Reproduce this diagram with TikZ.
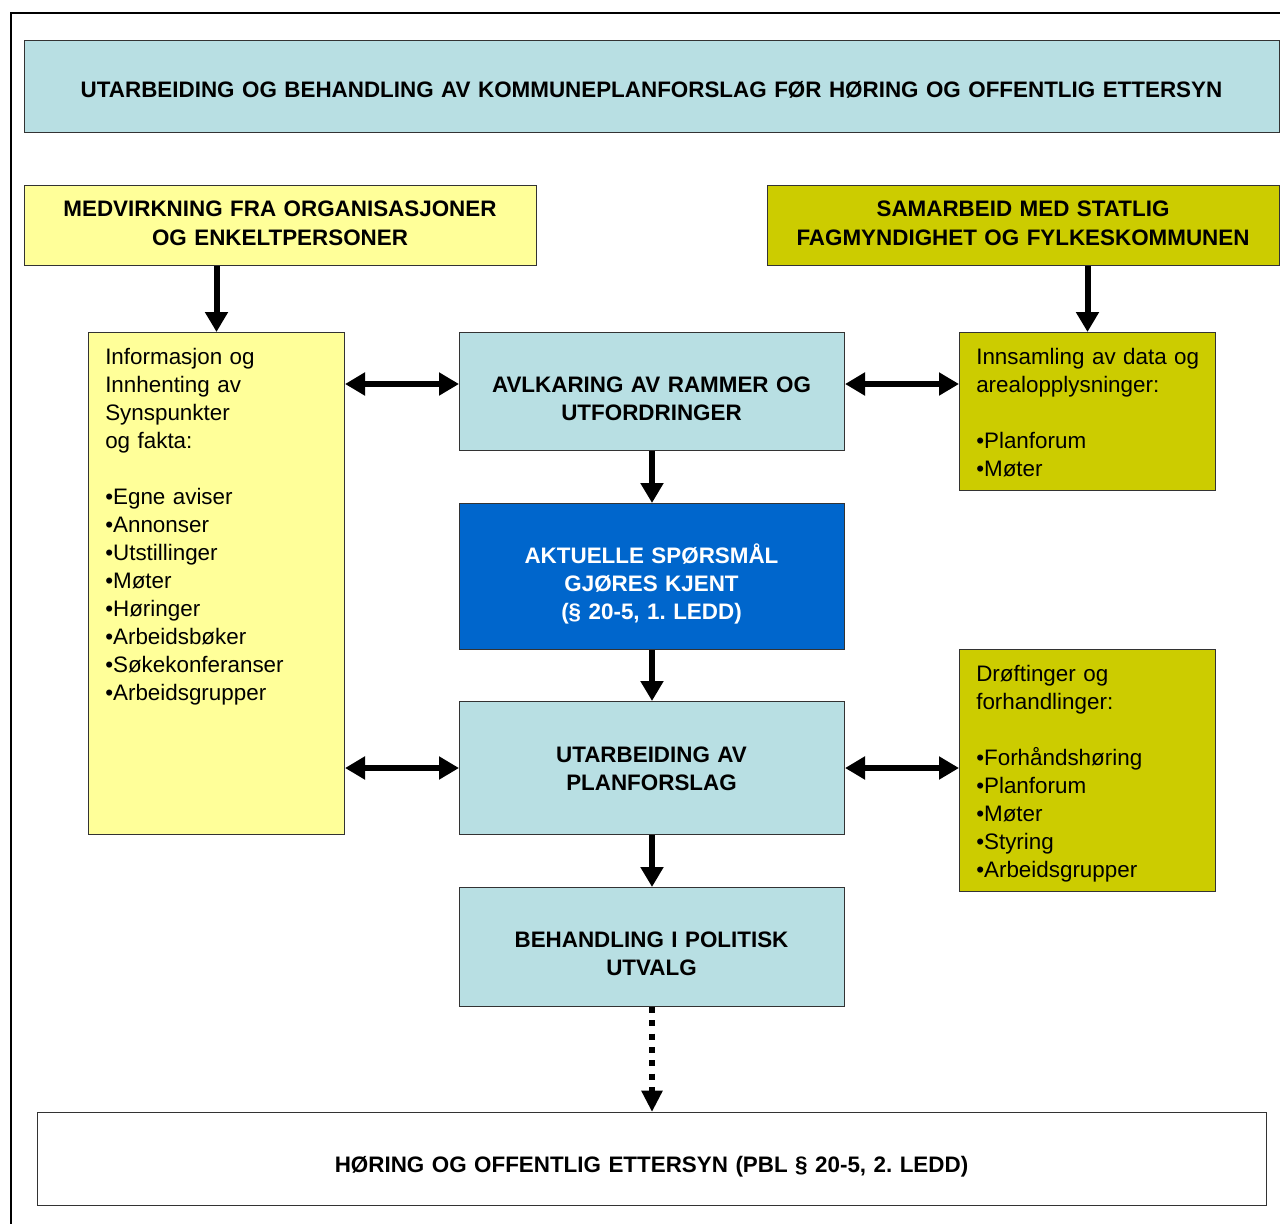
\documentclass[tikz,border=0pt]{standalone}
\usepackage{fontspec}
\setmainfont{Liberation Sans}
\usetikzlibrary{arrows.meta}
\definecolor{paleblue}{RGB}{184,223,227}
\definecolor{paleyellow}{RGB}{255,255,153}
\definecolor{olive}{RGB}{204,204,0}
\definecolor{deepblue}{RGB}{0,102,204}
\newdimen\pxu \pxu=0.75pt
\frenchspacing
\begin{document}
\begin{tikzpicture}[x=0.75pt,y=-0.75pt,
  box/.style={draw=black!80, line width=0.75pt, inner sep=0pt, anchor=north west},
  ctxt/.style={anchor=base, inner sep=0pt, align=center,
    font=\fontsize{16.8}{21}\selectfont\bfseries},
  ltxt/.style={anchor=base west, inner sep=0pt, align=left, text width=235\pxu,
    font=\fontsize{16.8}{21}\selectfont},
  arr/.style={line width=4.5pt, -{Triangle[width=16.5pt,length=15pt]}},
  darr/.style={line width=4.5pt, {Triangle[width=16.5pt,length=15pt]}-{Triangle[width=16.5pt,length=15pt]}},
  dotarr/.style={line width=4.5pt, dash pattern=on 4.5pt off 5.5pt,
    -{Triangle[width=15pt,length=16pt]}}]
\useasboundingbox (0,0) rectangle (1280,1223);
\begin{scope}
  \clip (0,0) rectangle (1280,1223);
  \draw[line width=1.5pt] (11,13) rectangle (1300,1240);
\end{scope}

% boxes
\node[box, fill=paleblue, minimum width=1255\pxu, minimum height=92\pxu] (title) at (24,40) {};
\node[box, fill=paleyellow, minimum width=512\pxu, minimum height=80\pxu] (medv) at (24,185) {};
\node[box, fill=olive, minimum width=512\pxu, minimum height=80\pxu] (samarb) at (767,185) {};
\node[box, fill=paleyellow, minimum width=256\pxu, minimum height=502\pxu] (info) at (88,332) {};
\node[box, fill=paleblue, minimum width=385\pxu, minimum height=118\pxu] (avk) at (459,332) {};
\node[box, fill=deepblue, minimum width=385\pxu, minimum height=146\pxu] (akt) at (459,503) {};
\node[box, fill=paleblue, minimum width=385\pxu, minimum height=133\pxu] (utarb) at (459,701) {};
\node[box, fill=paleblue, minimum width=385\pxu, minimum height=119\pxu] (behand) at (459,887) {};
\node[box, fill=olive, minimum width=256\pxu, minimum height=158\pxu] (innsam) at (959,332) {};
\node[box, fill=olive, minimum width=256\pxu, minimum height=242\pxu] (drof) at (959,649) {};
\node[box, fill=white, minimum width=1229\pxu, minimum height=93\pxu] (horing) at (37,1112) {};

% labels
\node[ctxt, text width=1255\pxu] (titleT) at (651.5,98) {UTARBEIDING OG BEHANDLING AV KOMMUNEPLANFORSLAG FØR HØRING OG OFFENTLIG ETTERSYN};
\node[ctxt, text width=512\pxu] (medvT) at (280,217) {MEDVIRKNING FRA ORGANISASJONER\\OG ENKELTPERSONER};
\node[ctxt, text width=512\pxu] (samarbT) at (1023,217) {SAMARBEID MED STATLIG\\FAGMYNDIGHET OG FYLKESKOMMUNEN};
\node[ctxt, text width=385\pxu] (avkT) at (651.5,392) {AVLKARING AV RAMMER OG\\UTFORDRINGER};
\node[ctxt, text width=385\pxu, text=white] (aktT) at (651.5,563) {AKTUELLE SPØRSMÅL\\GJØRES KJENT\\(§ 20-5, 1. LEDD)};
\node[ctxt, text width=385\pxu] (utarbT) at (651.5,762) {UTARBEIDING AV\\PLANFORSLAG};
\node[ctxt, text width=385\pxu] (behandT) at (651.5,947) {BEHANDLING I POLITISK\\UTVALG};
\node[ctxt, text width=1229\pxu] (horingT) at (651.5,1172) {HØRING OG OFFENTLIG ETTERSYN (PBL § 20-5, 2. LEDD)};

\node[ltxt] (infoT) at (105,364) {Informasjon og\\Innhenting av\\Synspunkter\\og fakta:\\[21pt]%
  •Egne aviser\\•Annonser\\•Utstillinger\\•Møter\\•Høringer\\•Arbeidsbøker\\•Søkekonferanser\\•Arbeidsgrupper};
\node[ltxt] (innsamT) at (976,364) {Innsamling av data og\\arealopplysninger:\\[21pt]%
  •Planforum\\•Møter};
\node[ltxt] (drofT) at (976,681) {Drøftinger og\\forhandlinger:\\[21pt]%
  •Forhåndshøring\\•Planforum\\•Møter\\•Styring\\•Arbeidsgrupper};

% connectors
\coordinate (upper) at (0,384);
\coordinate (lower) at (0,768);
\draw[arr] (info.north |- medv.south) -- (info.north);
\draw[arr] (innsam.north |- samarb.south) -- (innsam.north);
\draw[darr] (info.east |- upper) -- (avk.west |- upper);
\draw[darr] (avk.east |- upper) -- (innsam.west |- upper);
\draw[darr] (info.east |- lower) -- (utarb.west |- lower);
\draw[darr] (utarb.east |- lower) -- (drof.west |- lower);
\draw[arr] (avk.south) -- (akt.north);
\draw[arr] (akt.south) -- (utarb.north);
\draw[arr] (utarb.south) -- (behand.north);
\draw[dotarr] (behand.south) -- (horing.north);
\end{tikzpicture}
\end{document}
